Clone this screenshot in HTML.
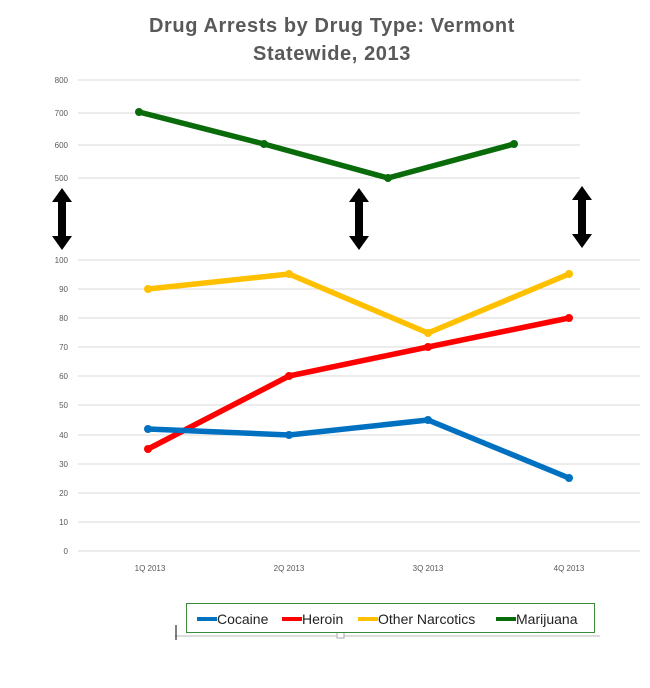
<!DOCTYPE html><html><head><style>body{margin:0;background:#fff}</style></head><body>
<svg width="650" height="683" xmlns="http://www.w3.org/2000/svg" font-family="Liberation Sans, sans-serif">
<text x="332" y="32" text-anchor="middle" font-size="20" font-weight="bold" fill="#595959" letter-spacing="0.6">Drug Arrests by Drug Type:  Vermont</text>
<text x="332" y="60" text-anchor="middle" font-size="20" font-weight="bold" fill="#595959" letter-spacing="0.6">Statewide, 2013</text>
<g stroke="#d9d9d9" stroke-width="1">
<line x1="78" y1="80" x2="580" y2="80"/><line x1="78" y1="113" x2="580" y2="113"/><line x1="78" y1="145" x2="580" y2="145"/><line x1="78" y1="178" x2="580" y2="178"/>
<line x1="78" y1="260" x2="640" y2="260"/><line x1="78" y1="289" x2="640" y2="289"/><line x1="78" y1="318" x2="640" y2="318"/><line x1="78" y1="347" x2="640" y2="347"/><line x1="78" y1="376" x2="640" y2="376"/><line x1="78" y1="405" x2="640" y2="405"/><line x1="78" y1="435" x2="640" y2="435"/><line x1="78" y1="464" x2="640" y2="464"/><line x1="78" y1="493" x2="640" y2="493"/><line x1="78" y1="522" x2="640" y2="522"/><line x1="78" y1="551" x2="640" y2="551"/>
</g>
<g font-size="8" fill="#595959" text-anchor="end">
<text x="68" y="83">800</text><text x="68" y="116">700</text><text x="68" y="148">600</text><text x="68" y="181">500</text>
<text x="68" y="263">100</text><text x="68" y="292">90</text><text x="68" y="321">80</text><text x="68" y="350">70</text><text x="68" y="379">60</text><text x="68" y="408">50</text><text x="68" y="438">40</text><text x="68" y="467">30</text><text x="68" y="496">20</text><text x="68" y="525">10</text><text x="68" y="554">0</text>
</g>
<g font-size="8" fill="#595959" text-anchor="middle">
<text x="150" y="571">1Q 2013</text><text x="289" y="571">2Q 2013</text><text x="428" y="571">3Q 2013</text><text x="569" y="571">4Q 2013</text>
</g>
<g stroke-width="5.5" fill="none" stroke-linejoin="round">
<polyline stroke="#0a6b0a" points="139,112 264,144 388,178 514,144"/>
<polyline stroke="#ffc000" points="148,289 289,274 428,333 569,274"/>
<polyline stroke="#ff0000" points="148,449 289,376 428,347 569,318"/>
<polyline stroke="#0070c0" points="148,429 289,435 428,420 569,478"/>
</g>
<g fill="#0a6b0a"><circle cx="139" cy="112" r="4"/><circle cx="264" cy="144" r="4"/><circle cx="388" cy="178" r="4"/><circle cx="514" cy="144" r="4"/></g>
<g fill="#ffc000"><circle cx="148" cy="289" r="4"/><circle cx="289" cy="274" r="4"/><circle cx="428" cy="333" r="4"/><circle cx="569" cy="274" r="4"/></g>
<g fill="#ff0000"><circle cx="148" cy="449" r="4"/><circle cx="289" cy="376" r="4"/><circle cx="428" cy="347" r="4"/><circle cx="569" cy="318" r="4"/></g>
<g fill="#0070c0"><circle cx="148" cy="429" r="4"/><circle cx="289" cy="435" r="4"/><circle cx="428" cy="420" r="4"/><circle cx="569" cy="478" r="4"/></g>
<g fill="#000">
<path d="M62,188 L72,202 L66,202 L66,236 L72,236 L62,250 L52,236 L58,236 L58,202 L52,202 Z"/>
<path d="M359,188 L369,202 L363,202 L363,236 L369,236 L359,250 L349,236 L355,236 L355,202 L349,202 Z"/>
<path d="M582,186 L592,200 L586,200 L586,234 L592,234 L582,248 L572,234 L578,234 L578,200 L572,200 Z"/>
</g>
<line x1="175" y1="636" x2="600" y2="636" stroke="#d0d0d0" stroke-width="1.5"/>
<rect x="337" y="632" width="7" height="6" fill="#fff" stroke="#aaa"/>
<line x1="176" y1="625" x2="176" y2="640" stroke="#000"/>
<rect x="186.5" y="603.5" width="408" height="29" fill="#fff" stroke="#3a8a3a" stroke-width="1"/>
<g font-size="14" fill="#222">
<line x1="197" y1="619" x2="217" y2="619" stroke="#0070c0" stroke-width="4"/><text x="217" y="624">Cocaine</text>
<line x1="282" y1="619" x2="302" y2="619" stroke="#ff0000" stroke-width="4"/><text x="302" y="624">Heroin</text>
<line x1="358" y1="619" x2="378" y2="619" stroke="#ffc000" stroke-width="4"/><text x="378" y="624">Other Narcotics</text>
<line x1="496" y1="619" x2="516" y2="619" stroke="#0a6b0a" stroke-width="4"/><text x="516" y="624">Marijuana</text>
</g>
</svg>
</body></html>
